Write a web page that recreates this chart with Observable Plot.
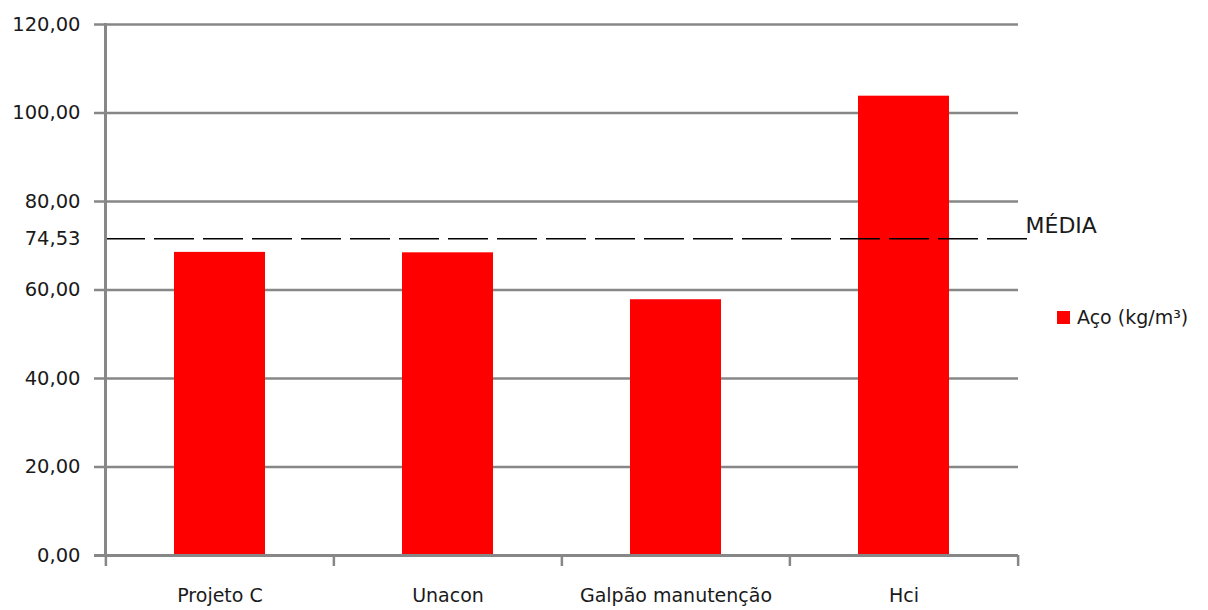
<!DOCTYPE html>
<html>
<head>
<meta charset="utf-8">
<script src="https://cdn.jsdelivr.net/npm/d3@7"></script>
<script src="https://cdn.jsdelivr.net/npm/@observablehq/plot@0.6"></script>
<style>
  html, body { margin: 0; padding: 0; background: #fff; }
  #wrap { position: relative; width: 1208px; height: 610px; }
  #legend { position: absolute; left: 1057px; top: 306px; font-family: "DejaVu Sans", sans-serif; font-size: 19px; color: #1a1a1a; display: flex; align-items: center; white-space: nowrap; }
  #legend .sw { width: 13px; height: 13px; background: #ff0000; margin-right: 7px; }
</style>
</head>
<body>
<div id="wrap"><div id="legend"><span class="sw"></span><span id="legendText"></span></div></div>
<script>
const categories = ["Projeto C", "Unacon", "Galpão manutenção", "Hci"];
const values = [68.5, 68.4, 57.8, 103.8];
const seriesName = "Aço (kg/m³)";
const yTicks = [0, 20, 40, 60, 80, 100, 120];
const meanLabel = "74,53";
const meanLinePos = 71.6; // position of the dashed line as drawn in the reference
const meanText = "MÉDIA";

const W = 1208, H = 610, ML = 105, MR = 190, MT = 24, MB = 55;
const step = (W - ML - MR) / categories.length;
const data = categories.map((c, i) => ({category: c, value: values[i]}));
const fmt = d => d3.format(".2f")(d).replace(".", ",");
const grey = "#878787";
const ink = "#1a1a1a";

const chart = Plot.plot({
  width: W, height: H,
  marginLeft: ML, marginRight: MR, marginTop: MT, marginBottom: MB,
  style: {fontFamily: "DejaVu Sans, sans-serif", fontSize: "19px", color: ink, background: "#fff"},
  x: {type: "band", domain: categories, paddingInner: 0.6, paddingOuter: 0.3, label: null},
  y: {domain: [0, 120], label: null},
  marks: [
    Plot.gridY(yTicks, {stroke: grey, strokeOpacity: 1, strokeWidth: 2.5}),
    Plot.barY(data, {x: "category", y: "value", fill: "#ff0000"}),
    Plot.ruleY([meanLinePos], {stroke: "#000", strokeWidth: 1.5, strokeDasharray: "40,9", insetRight: -10}),
    Plot.text([meanText], {y: meanLinePos, text: d => d, frameAnchor: "right", textAnchor: "start", dx: 7, dy: -13, fontSize: 22, fill: ink}),
    Plot.axisY(yTicks, {tickSize: 11, tickPadding: 14, stroke: grey, strokeWidth: 2.5, tickFormat: fmt, fontSize: 19.5, fill: ink}),
    Plot.axisY([meanLinePos], {tickSize: 0, tickPadding: 25, tickFormat: () => meanLabel, fontSize: 19.5, fill: ink}),
    Plot.ruleY([0], {stroke: grey, strokeWidth: 3, insetLeft: -11}),
    Plot.frame({anchor: "left", stroke: grey, strokeWidth: 3}),
    Plot.axisX(categories, {tickSize: 0, tickPadding: 33, fontSize: 19, fill: ink}),
    Plot.axisX(categories, {tickSize: 11, dx: -step / 2, tickFormat: () => "", stroke: grey, strokeWidth: 2.5}),
    Plot.axisX(categories.slice(-1), {tickSize: 11, dx: step / 2, tickFormat: () => "", stroke: grey, strokeWidth: 2.5})
  ]
});
document.getElementById("wrap").prepend(chart);
document.getElementById("legendText").textContent = seriesName;
</script>
</body>
</html>
